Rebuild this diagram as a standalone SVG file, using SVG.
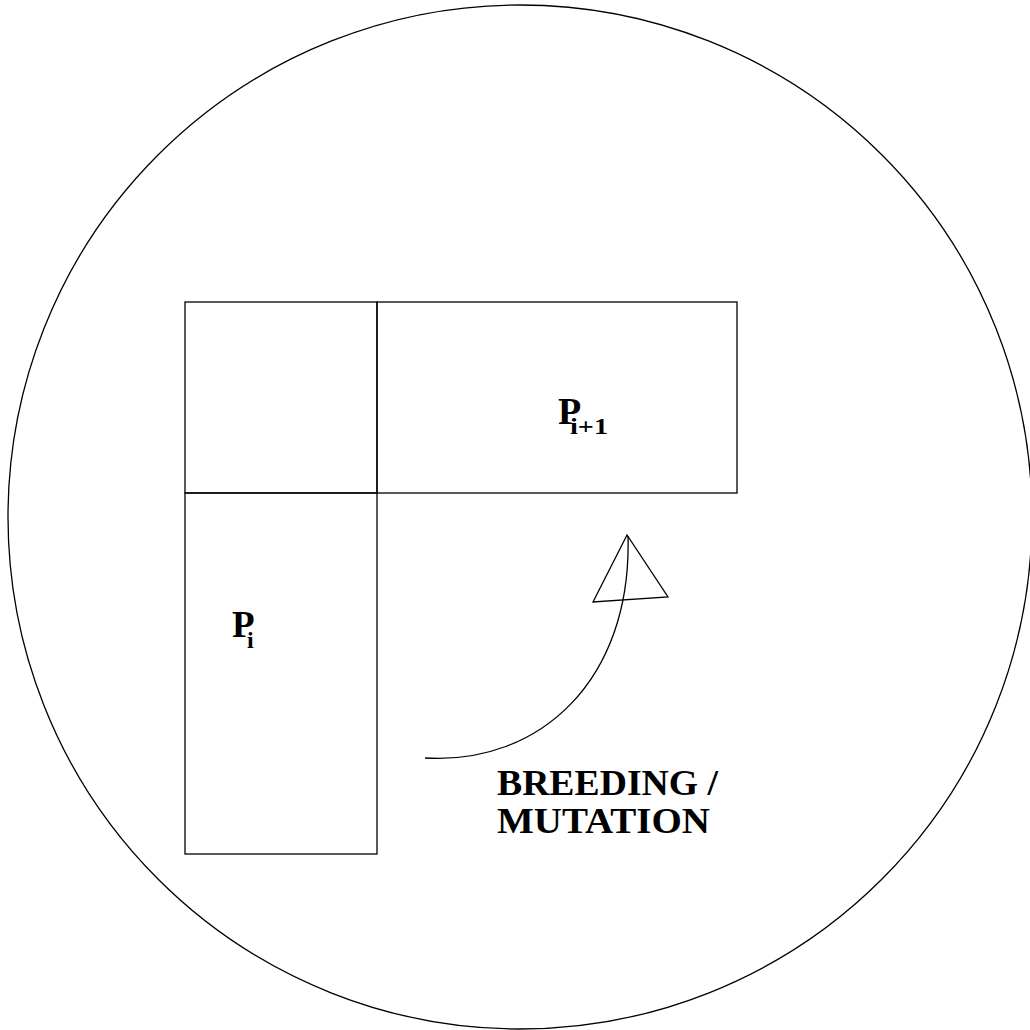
<svg xmlns="http://www.w3.org/2000/svg" width="1030" height="1030" viewBox="0 0 1030 1030">
<style>
.ln{fill:none;stroke:#000;stroke-width:1.3}
.t{font-family:"Liberation Serif","Times New Roman",serif;font-weight:bold;fill:#000}
</style>
<rect width="1030" height="1030" fill="#fff"/>
<g id="boundary"><circle class="ln" cx="520" cy="517" r="512"/></g>
<g id="corner"><rect class="ln" x="185" y="302" width="192" height="191"/></g>
<g id="p-next"><rect class="ln" x="377" y="302" width="360" height="191"/>
<text class="t" x="558" y="424" font-size="38">P</text><text class="t" x="570" y="434" font-size="24" textLength="38" lengthAdjust="spacingAndGlyphs">i+1</text></g>
<g id="p-i"><rect class="ln" x="185" y="493" width="192" height="361"/>
<text class="t" x="232" y="637" font-size="37">P</text><text class="t" x="247" y="648" font-size="24">i</text></g>
<g id="connectors">
<path class="ln" d="M425,758 C540,765 632,680 628,536"/>
<polygon class="ln" points="627,535 593,602 668,597"/>
</g>
<g id="label">
<text class="t" x="497" y="795" font-size="36" textLength="221" lengthAdjust="spacingAndGlyphs">BREEDING /</text>
<text class="t" x="497" y="833" font-size="36" textLength="213" lengthAdjust="spacingAndGlyphs">MUTATION</text>
</g>
</svg>
